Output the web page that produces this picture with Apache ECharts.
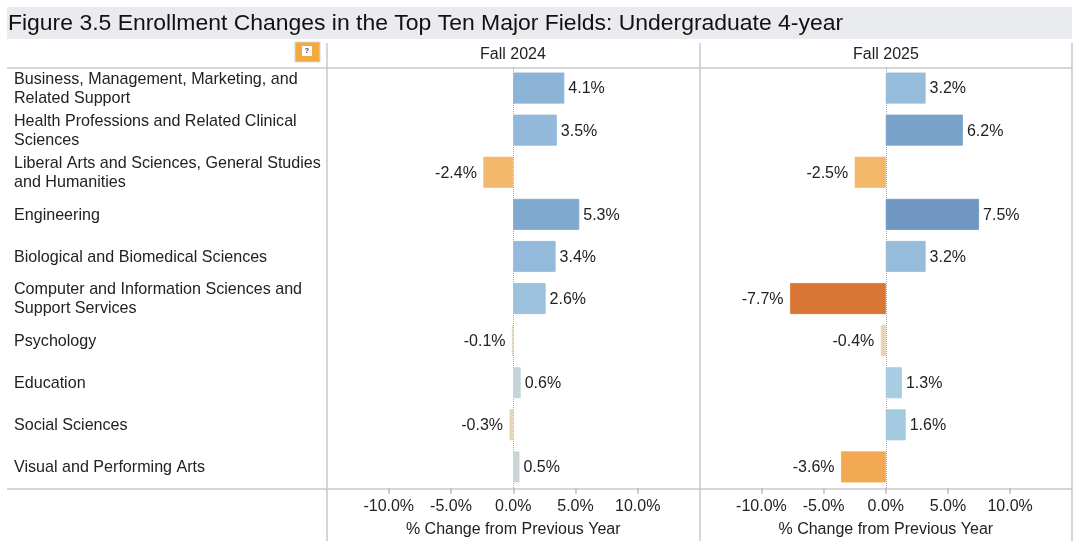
<!DOCTYPE html>
<html>
<head>
<meta charset="utf-8">
<style>html,body{margin:0;padding:0;background:#fff}#chart{width:1080px;height:541px}</style>
<script src="https://cdn.jsdelivr.net/npm/echarts@6/dist/echarts.min.js"></script>
</head>
<body>
<div id="chart"></div>
<script>
// Enrollment change by major field, one panel per fall term
const fields = [
  'Business, Management, Marketing, and\nRelated Support',
  'Health Professions and Related Clinical\nSciences',
  'Liberal Arts and Sciences, General Studies\nand Humanities',
  'Engineering',
  'Biological and Biomedical Sciences',
  'Computer and Information Sciences and\nSupport Services',
  'Psychology',
  'Education',
  'Social Sciences',
  'Visual and Performing Arts'
];
const fall2024 = [4.1, 3.5, -2.4, 5.3, 3.4, 2.6, -0.1, 0.6, -0.3, 0.5];
const fall2025 = [3.2, 6.2, -2.5, 7.5, 3.2, -7.7, -0.4, 1.3, 1.6, -3.6];
const termLabels = ['Fall 2024', 'Fall 2025'];
const tickValues = [-10, -5, 0, 5, 10];
const figureTitle = 'Figure 3.5 Enrollment Changes in the Top Ten Major Fields: Undergraduate 4-year';
const axisTitle = '% Change from Previous Year';

const FONT = '"Liberation Sans", Arial, sans-serif';
const INK = '#222222';
const RULE = '#c9c9c9';

// Diverging colour ramp: orange for declines, blue for growth
const rampStops = [
  [-7.7, [217, 117, 53]], [-3.6, [242, 169, 82]], [-2.4, [243, 184, 107]],
  [-0.3, [230, 212, 182]], [0.5, [200, 214, 216]], [1.3, [168, 204, 226]],
  [3.2, [149, 188, 219]], [5.3, [127, 169, 207]], [7.5, [111, 151, 194]]
];
function rampColor(v) {
  for (let i = 1; i < rampStops.length; i++) {
    if (v <= rampStops[i][0]) {
      const [a, ca] = rampStops[i - 1], [b, cb] = rampStops[i];
      const t = Math.max(0, (v - a) / (b - a));
      return 'rgb(' + ca.map((c, k) => Math.round(c + (cb[k] - c) * t)).join(',') + ')';
    }
  }
  return 'rgb(' + rampStops[rampStops.length - 1][1].join(',') + ')';
}

const panels = [{ left: 326.5, width: 373.5 }, { left: 699.3, width: 373 }];
const gridTop = 67, gridBottom = 488;

function barData(values) {
  return values.map(v => ({
    value: v,
    itemStyle: { color: rampColor(v), borderColor: rampColor(v), borderWidth: 0.8 },
    label: { position: v < 0 ? 'left' : 'right', distance: v < 0 ? 6.5 : 4 }
  }));
}

const hLine = (y) => ({
  type: 'line', silent: true,
  shape: { x1: 7, y1: y, x2: 1072, y2: y },
  style: { stroke: RULE, lineWidth: 1.5 }
});
const vLine = (x, y1, y2) => ({
  type: 'line', silent: true,
  shape: { x1: x, y1: y1, x2: x, y2: y2 },
  style: { stroke: RULE, lineWidth: 1.5 }
});

// Two bar panels plus a narrow grid that only carries the field names
const option = {
  animation: false,
  backgroundColor: '#ffffff',
  grid: panels.map(p => ({ left: p.left, width: p.width, top: gridTop, height: gridBottom - gridTop, outerBoundsMode: 'none' }))
    .concat([{ left: 327, width: 1, top: 68, height: 421, outerBoundsMode: 'none' }]),
  xAxis: panels.map((p, i) => ({
    type: 'value', gridIndex: i, min: -15, max: 15, interval: 5,
    splitLine: { show: false },
    axisLine: { show: false },
    axisTick: { show: true, length: 6, customValues: tickValues, lineStyle: { color: '#bdbdbd', width: 1.5 } },
    axisLabel: {
      customValues: tickValues, margin: 11, color: INK, fontFamily: FONT, fontSize: 16,
      formatter: v => v.toFixed(1) + '%'
    },
    name: axisTitle, nameLocation: 'middle', nameGap: 34,
    nameTextStyle: { color: INK, fontFamily: FONT, fontSize: 16 }
  })).concat([{ type: 'value', gridIndex: 2, show: false }]),
  yAxis: panels.map((p, i) => ({
    type: 'category', gridIndex: i, inverse: true, data: fields,
    axisLine: { show: false }, axisTick: { show: false }, axisLabel: { show: false }
  })).concat([{
    type: 'category', gridIndex: 2, inverse: true, data: fields,
    axisLine: { show: false }, axisTick: { show: false },
    axisLabel: {
      show: true, interval: 0, align: 'left', margin: 313, color: INK,
      fontFamily: FONT, fontSize: 16.1, lineHeight: 19
    }
  }]),
  series: [fall2024, fall2025].map((vals, i) => ({
    type: 'bar', xAxisIndex: i, yAxisIndex: i, barWidth: 31,
    data: barData(vals),
    label: {
      show: true, offset: [0, 1], color: INK, fontFamily: FONT, fontSize: 16,
      formatter: p => p.value.toFixed(1) + '%'
    },
    markLine: {
      silent: true, symbol: 'none', z: 1, label: { show: false },
      lineStyle: { color: '#a8a8a8', type: 'dotted', width: 1 },
      data: [{ xAxis: 0 }]
    }
  })),
  graphic: [
    { type: 'rect', silent: true, shape: { x: 7, y: 7, width: 1065, height: 32 }, style: { fill: '#eaebef' } },
    { type: 'text', silent: true, x: 8, y: 24, style: { text: figureTitle, fill: '#111111', font: '22.95px ' + FONT, verticalAlign: 'middle' } },
    hLine(68), hLine(489),
    vLine(327, 43, 541), vLine(700, 43, 541), vLine(1072, 43, 541),
    { type: 'text', silent: true, x: 513, y: 55, style: { text: termLabels[0], fill: INK, font: '16px ' + FONT, align: 'center', verticalAlign: 'middle' } },
    { type: 'text', silent: true, x: 886, y: 55, style: { text: termLabels[1], fill: INK, font: '16px ' + FONT, align: 'center', verticalAlign: 'middle' } },
    { type: 'rect', silent: true, shape: { x: 295, y: 42, width: 25, height: 20 }, style: { fill: '#f3a93c', stroke: '#d8d8d8', lineWidth: 1 } },
    { type: 'rect', silent: true, shape: { x: 302, y: 46, width: 10, height: 10 }, style: { fill: '#ffffff' } },
    { type: 'text', silent: true, x: 307, y: 51, style: { text: '?', fill: '#333333', font: 'bold 7px ' + FONT, align: 'center', verticalAlign: 'middle' } }
  ]
};

echarts.init(document.getElementById('chart')).setOption(option);
</script>
</body>
</html>
